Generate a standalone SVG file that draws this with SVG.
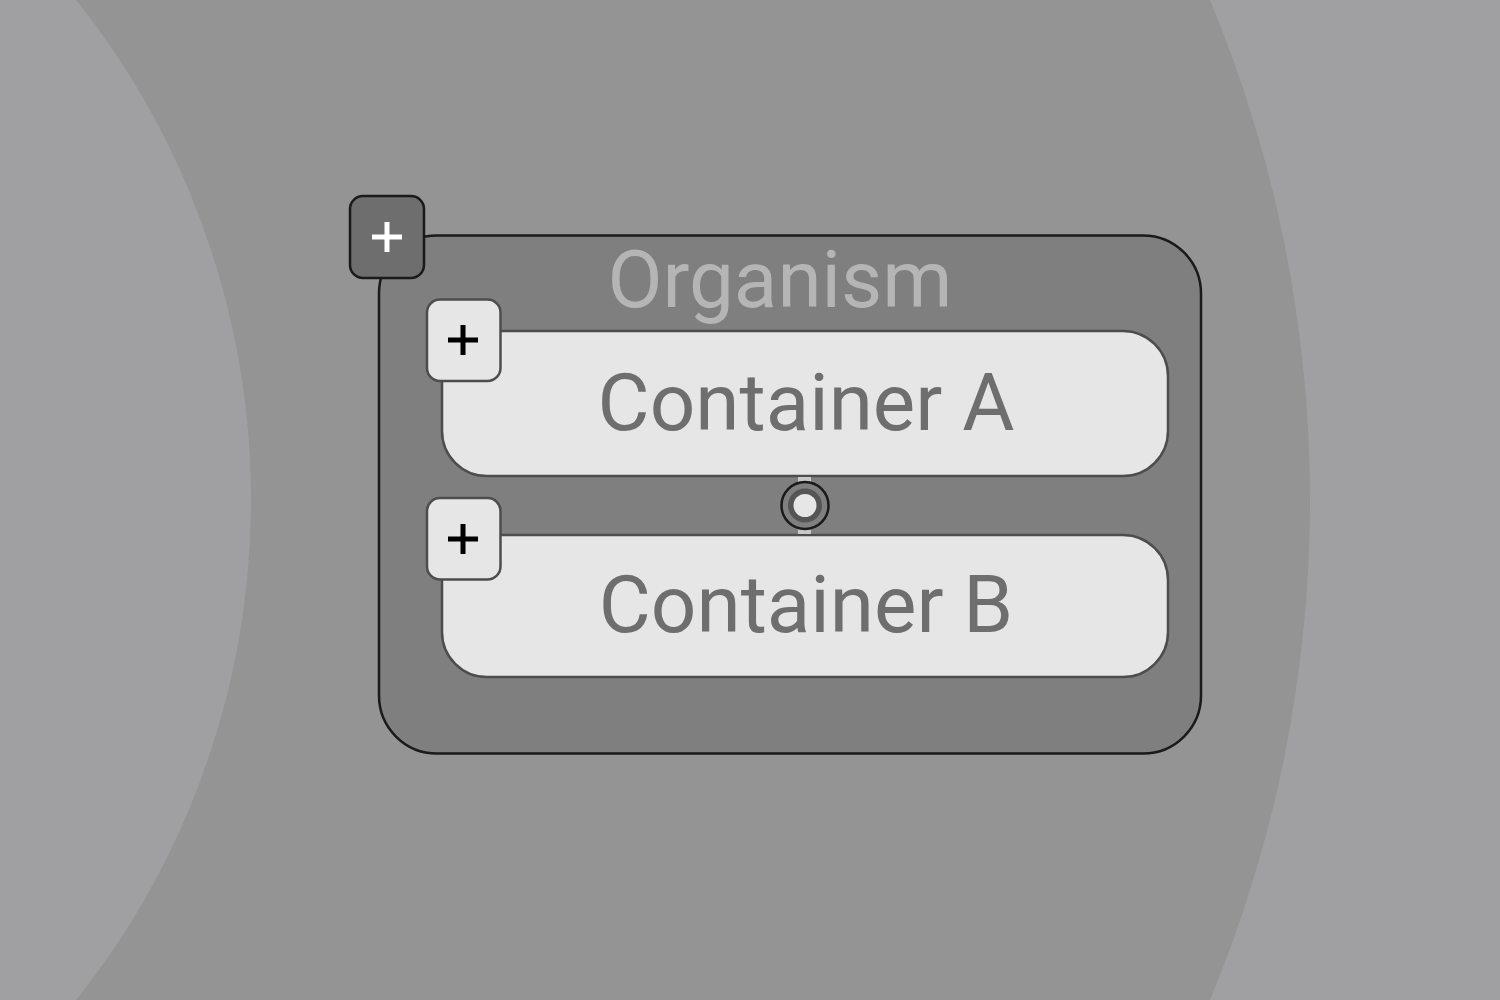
<svg xmlns="http://www.w3.org/2000/svg" width="1500" height="1000" viewBox="0 0 1500 1000">
  <style>
    .bg-light { fill: #a0a0a2; }
    .bg-mid { fill: #949494; }
    .organism { fill: #7f7f7f; stroke: #1a1a1a; stroke-width: 2.5; }
    .container { fill: #e6e6e6; stroke: #4d4d4d; stroke-width: 2.5; }
    .btn-dark { fill: #6e6e6e; stroke: #1a1a1a; stroke-width: 2.5; }
    .btn-light { fill: #e6e6e6; stroke: #4d4d4d; stroke-width: 2.5; }
    .plus-white { stroke: #ffffff; stroke-width: 5; fill: none; }
    .plus-black { stroke: #000000; stroke-width: 5; fill: none; }
    .title { font-family: Roboto, "Liberation Sans", sans-serif; font-size: 80px; fill: #b5b5b5; text-anchor: middle; }
    .label { font-family: Roboto, "Liberation Sans", sans-serif; font-size: 80px; fill: #6e6e6e; text-anchor: middle; }
  </style>

  <g id="background">
    <rect class="bg-light" x="0" y="0" width="1500" height="1000"/>
    <circle class="bg-mid" cx="10" cy="500" r="1300"/>
    <circle class="bg-light" cx="-552" cy="500" r="803"/>
  </g>

  <g id="organism">
    <rect class="organism" x="379" y="235.5" width="822" height="518" rx="58" ry="58"/>
    <text class="title" x="780" y="307">Organism</text>
  </g>
  <g id="organism-toggle">
    <rect class="btn-dark" x="350" y="196" width="74" height="82" rx="13" ry="13"/>
    <path class="plus-white" d="M372 237H402M387 222V252"/>
  </g>

  <g id="container-a">
    <rect class="container" x="442" y="331" width="726" height="145" rx="45" ry="45"/>
    <text class="label" x="806" y="430">Container A</text>
  </g>
  <g id="container-a-toggle">
    <rect class="btn-light" x="427" y="299.5" width="73.5" height="81.5" rx="13" ry="13"/>
    <path class="plus-black" d="M448 340H478M463 325V355"/>
  </g>

  <g id="container-b">
    <rect class="container" x="442" y="535" width="726" height="142" rx="45" ry="45"/>
    <text class="label" x="806" y="632">Container B</text>
  </g>
  <g id="container-b-toggle">
    <rect class="btn-light" x="427" y="498" width="73.5" height="81.5" rx="13" ry="13"/>
    <path class="plus-black" d="M448 539H478M463 524V554"/>
  </g>

  <g id="connectors">
    <line x1="804.5" y1="477" x2="804.5" y2="534" stroke="#c8c8c8" stroke-width="13"/>
    <circle cx="805" cy="505.5" r="23.5" fill="#7f7f7f" stroke="#1a1a1a" stroke-width="2.5"/>
    <circle cx="805" cy="505.5" r="17" fill="#555555"/>
    <circle cx="805" cy="505.5" r="11.5" fill="#e6e6e6"/>
  </g>
</svg>
